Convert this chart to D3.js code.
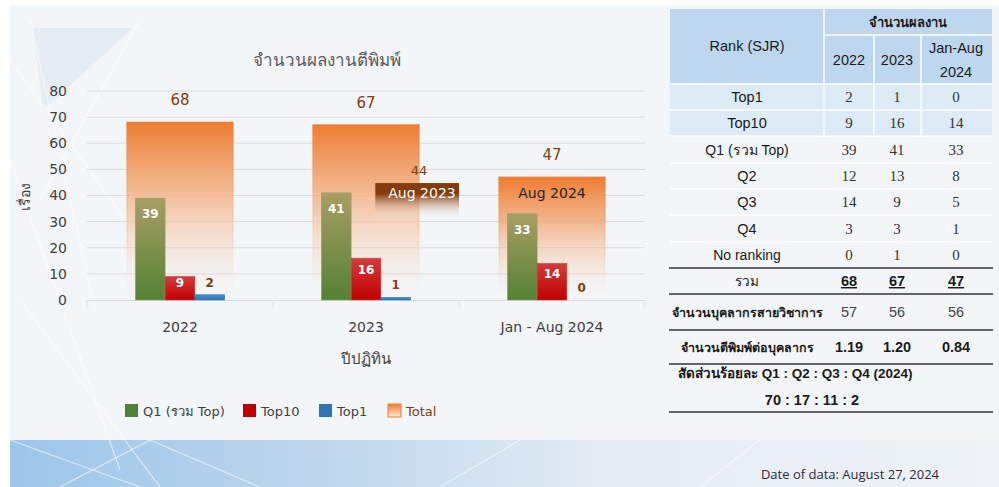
<!DOCTYPE html>
<html>
<head>
<meta charset="utf-8">
<script src="https://cdn.jsdelivr.net/npm/d3@7"></script>
<style>
  body { margin: 0; background: #fff; }
  svg { display: block; font-family: "DejaVu Sans", "Noto Sans", sans-serif; }
</style>
</head>
<body>
<svg id="chart"></svg>
<script>
// chart data
var categories = ["2022", "2023", "Jan - Aug 2024"];
var q1 = [39, 41, 33];
var top10 = [9, 16, 14];
var top1 = [2, 1, 0];
var total = [68, 67, 47];
var yTicks = [0, 10, 20, 30, 40, 50, 60, 70, 80];
var aug2023 = 44;
var augLabels = ["Aug 2023", "Aug 2024"];

// table data
var tableYears = ["2022", "2023", "Jan-Aug", "2024"];
var rankNames = ["Top1", "Top10", "Q1 (รวม Top)", "Q2", "Q3", "Q4", "No ranking"];
var rankValues = [[2, 1, 0], [9, 16, 14], [39, 41, 33], [12, 13, 8], [14, 9, 5], [3, 3, 1], [0, 1, 0]];
var sumRow = [68, 67, 47];
var staffRow = [57, 56, 56];
var perStaffRow = ["1.19", "1.20", "0.84"];
var ratioText = ["สัดส่วนร้อยละ Q1 : Q2 : Q3 : Q4 (2024)", "70 : 17 : 11 : 2"];

var svgWidth = 999;
var svgHeight = 487;

var svg = d3.select("#chart")
  .attr("width", svgWidth)
  .attr("height", svgHeight);

var defs = svg.append("defs");

function vGrad(id, stops) {
  var g = defs.append("linearGradient").attr("id", id)
    .attr("x1", 0).attr("y1", 0).attr("x2", 0).attr("y2", 1);
  stops.forEach(function(s) {
    g.append("stop").attr("offset", s[0]).attr("stop-color", s[1]).attr("stop-opacity", s[2] == null ? 1 : s[2]);
  });
}
vGrad("gTotal", [[0, "#ed7d31"], [0.35, "#f3a877", 0.85], [1, "#fbe5d6", 0]]);
vGrad("gGreen", [[0, "#a89e64"], [1, "#548235"]]);
vGrad("gRed", [[0, "#d43c3c"], [1, "#c00000"]]);
vGrad("gBlue", [[0, "#4a8ccc"], [1, "#2e75b6"]]);
vGrad("gAug", [[0, "#843c0c"], [0.3, "#843c0c"], [1, "#ffffff", 0]]);
vGrad("gLegTot", [[0, "#ed7d31"], [1, "#fde9d9"]]);

var bandG = defs.append("linearGradient").attr("id", "gBand")
  .attr("x1", 0).attr("y1", 0).attr("x2", 1).attr("y2", 0);
[[0, "#9cc6ea"], [0.3, "#bcd5ec"], [0.6, "#e4ecf4"], [1, "#eff3f7"]].forEach(function(s) {
  bandG.append("stop").attr("offset", s[0]).attr("stop-color", s[1]);
});

// background
svg.append("rect").attr("x", 10).attr("y", 5).attr("width", 989).attr("height", 482).attr("fill", "#f3f6f9");
svg.append("rect").attr("x", 10).attr("y", 440).attr("width", 989).attr("height", 47).attr("fill", "url(#gBand)");
svg.append("polygon").attr("points", "33,28 133,28 43,110").attr("fill", "#e4ecf4");
var deco = [[10, 60, 140, 240], [30, 20, 95, 310], [140, 20, 40, 200], [10, 160, 120, 470], [60, 487, 150, 440],
  [20, 300, 160, 487], [150, 440, 260, 487], [10, 440, 140, 487], [440, 487, 520, 440], [700, 487, 760, 440]];
svg.selectAll("line.deco").data(deco).enter().append("line")
  .attr("x1", function(d) { return d[0]; }).attr("y1", function(d) { return d[1]; })
  .attr("x2", function(d) { return d[2]; }).attr("y2", function(d) { return d[3]; })
  .attr("stroke", "#ffffff").attr("stroke-opacity", 0.6).attr("stroke-width", 1.2);

// scales
var x = d3.scaleBand().domain(categories).range([87, 645]);
var y = d3.scaleLinear().domain([0, 80]).range([300, 91]);
var groupW = x.bandwidth() * 0.48;
var totalW = x.bandwidth() * 0.57;
var sub = d3.scaleBand().domain(["q1", "top10", "top1"]).range([0, groupW]);

// gridlines
svg.selectAll("line.grid").data(yTicks.slice(1)).enter().append("line")
  .attr("x1", 87).attr("x2", 645)
  .attr("y1", function(d) { return y(d); }).attr("y2", function(d) { return y(d); })
  .attr("stroke", "#d9d9d9").attr("stroke-width", 1);

// y axis labels
var yAxis = d3.axisLeft(y).tickValues(yTicks).tickSize(0).tickPadding(0);
var yG = svg.append("g").attr("transform", "translate(67,0)").call(yAxis);
yG.select(".domain").remove();
yG.selectAll("text").attr("font-size", 14).attr("fill", "#404040").attr("font-family", "DejaVu Sans");

svg.append("text").attr("transform", "translate(30,197) rotate(-90)")
  .attr("text-anchor", "middle").attr("font-size", 14).attr("fill", "#404040").text("เรื่อง");

// x axis
var xAxis = d3.axisBottom(x).tickSize(0).tickPadding(22);
var xG = svg.append("g").attr("transform", "translate(0,300)").call(xAxis);
xG.select(".domain").attr("stroke", "#d9d9d9");
xG.selectAll("text").attr("font-size", 14).attr("fill", "#404040").attr("font-family", "DejaVu Sans");
svg.selectAll("line.sep").data([87, 273, 459, 645]).enter().append("line")
  .attr("x1", function(d) { return d; }).attr("x2", function(d) { return d; })
  .attr("y1", 300).attr("y2", 308).attr("stroke", "#d9d9d9");

svg.append("text").attr("x", 366).attr("y", 364).attr("text-anchor", "middle")
  .attr("font-size", 15).attr("fill", "#404040").text("ปีปฏิทิน");

svg.append("text").attr("x", 327).attr("y", 66).attr("text-anchor", "middle")
  .attr("font-size", 17).attr("fill", "#595959").text("จำนวนผลงานตีพิมพ์");

// total bars
svg.selectAll("rect.total").data(total).enter().append("rect")
  .attr("x", function(d, i) { return x(categories[i]) + (x.bandwidth() - totalW) / 2; })
  .attr("y", function(d) { return y(d); })
  .attr("width", totalW)
  .attr("height", function(d) { return y(0) - y(d); })
  .attr("fill", "url(#gTotal)")
  .attr("stroke", "url(#gTotal)").attr("stroke-width", 1.2);
svg.selectAll("text.total").data(total).enter().append("text")
  .attr("x", function(d, i) { return x(categories[i]) + x.bandwidth() / 2; })
  .attr("y", function(d) { return y(d) - 17; })
  .attr("text-anchor", "middle").attr("font-size", 15).attr("fill", "#843c0c")
  .text(function(d) { return d; });

// Aug 2023 marker
var augX = x(categories[1]) + x.bandwidth() * 0.55;
svg.append("rect").attr("x", augX).attr("y", y(aug2023) - 2)
  .attr("width", x(categories[2]) - augX).attr("height", 36).attr("fill", "url(#gAug)");
svg.append("text").attr("x", x(categories[2]) - 37).attr("y", y(aug2023) + 13)
  .attr("text-anchor", "middle").attr("font-size", 14).attr("fill", "#ffffff").text(augLabels[0]);
svg.append("text").attr("x", x(categories[1]) + (x.bandwidth() + totalW) / 2).attr("y", y(aug2023) - 10)
  .attr("text-anchor", "middle").attr("font-size", 13).attr("fill", "#843c0c").text(aug2023);
svg.append("text").attr("x", x(categories[2]) + x.bandwidth() / 2).attr("y", y(aug2023) + 13)
  .attr("text-anchor", "middle").attr("font-size", 14).attr("fill", "#262626").text(augLabels[1]);

// series bars
var series = [
  { key: "q1", values: q1, fill: "url(#gGreen)", stroke: "#8fa266" },
  { key: "top10", values: top10, fill: "url(#gRed)", stroke: "#d04040" },
  { key: "top1", values: top1, fill: "url(#gBlue)", stroke: "#2e75b6" }
];
series.forEach(function(s) {
  svg.selectAll("rect." + s.key).data(s.values).enter().append("rect")
    .attr("x", function(d, i) { return x(categories[i]) + (x.bandwidth() - groupW) / 2 + sub(s.key); })
    .attr("y", function(d) { return y(d); })
    .attr("width", sub.bandwidth())
    .attr("height", function(d) { return y(0) - y(d); })
    .attr("fill", s.fill)
    .attr("stroke", s.stroke).attr("stroke-width", 0.6);
  svg.selectAll("text." + s.key).data(s.values).enter().append("text")
    .attr("x", function(d, i) { return x(categories[i]) + (x.bandwidth() - groupW) / 2 + sub(s.key) + sub.bandwidth() / 2; })
    .attr("y", function(d) {
      if (s.key == "top1") return y(d) - 8;
      var h = y(0) - y(d);
      return y(d) + Math.min(16, h * 0.28) + 4;
    })
    .attr("text-anchor", "middle").attr("font-size", 12).attr("font-weight", "bold")
    .attr("fill", s.key == "top1" ? "#7f3f10" : "#ffffff")
    .text(function(d) { return d; });
});

// legend
var legend = [
  { name: "Q1 (รวม Top)", fill: "#548235", x: 125, color: "#404040" },
  { name: "Top10", fill: "#c00000", x: 243, color: "#404040" },
  { name: "Top1", fill: "#2e75b6", x: 319, color: "#404040" },
  { name: "Total", fill: "url(#gLegTot)", x: 388, color: "#843c0c" }
];
var lg = svg.selectAll("g.leg").data(legend).enter().append("g")
  .attr("transform", function(d) { return "translate(" + d.x + ",404)"; });
lg.append("rect").attr("width", 13).attr("height", 13)
  .attr("fill", function(d) { return d.fill; })
  .attr("stroke", function(d) { return d.name == "Total" ? "#ed7d31" : "none"; });
lg.append("text").attr("x", 18).attr("y", 12).attr("font-size", 13)
  .attr("fill", function(d) { return d.color; })
  .text(function(d) { return d.name; });

// table
var tX0 = 670, tX1 = 992, cLab = 824;
var colMid = [849, 897, 956];
var labMid = 747;
svg.append("rect").attr("x", tX0).attr("y", 9).attr("width", tX1 - tX0).attr("height", 75).attr("fill", "#bdd7ee");
svg.append("rect").attr("x", tX0).attr("y", 84).attr("width", tX1 - tX0).attr("height", 52).attr("fill", "#ddebf7");
var white = svg.append("g").attr("stroke", "#ffffff").attr("stroke-width", 1.5);
white.append("line").attr("x1", cLab).attr("x2", cLab).attr("y1", 9).attr("y2", 136);
[874, 921].forEach(function(v) {
  white.append("line").attr("x1", v).attr("x2", v).attr("y1", 35).attr("y2", 136);
});
white.append("line").attr("x1", cLab).attr("x2", tX1).attr("y1", 35).attr("y2", 35);
[84, 110, 136, 163, 189, 215, 242].forEach(function(v) {
  white.append("line").attr("x1", tX0).attr("x2", tX1).attr("y1", v).attr("y2", v);
});
svg.selectAll("line.black").data([268, 294, 330, 364, 412]).enter().append("line")
  .attr("x1", 669).attr("x2", 993)
  .attr("y1", function(d) { return d; }).attr("y2", function(d) { return d; })
  .attr("stroke", "#333333").attr("stroke-width", 1.3);

var tt = svg.append("g").attr("font-size", 14.5).attr("fill", "#1a1a1a").attr("text-anchor", "middle")
  .attr("font-family", "'Liberation Sans', 'DejaVu Sans', sans-serif");
tt.append("text").attr("x", labMid).attr("y", 51).text("Rank (SJR)");
tt.append("text").attr("x", 908).attr("y", 27).attr("font-weight", "bold").attr("font-size", 13).text("จำนวนผลงาน");
tt.append("text").attr("x", colMid[0]).attr("y", 65).text(tableYears[0]);
tt.append("text").attr("x", colMid[1]).attr("y", 65).text(tableYears[1]);
tt.append("text").attr("x", colMid[2]).attr("y", 53).text(tableYears[2]);
tt.append("text").attr("x", colMid[2]).attr("y", 77).text(tableYears[3]);

var rowY = d3.scaleBand().domain(rankNames).range([84, 268]);
rankNames.forEach(function(name, r) {
  var cy = rowY(name) + rowY.bandwidth() / 2 + 5;
  tt.append("text").attr("x", labMid).attr("y", cy).attr("font-size", name.length > 4 && name != "Top10" ? 14 : 14.5).text(name);
  rankValues[r].forEach(function(v, c) {
    tt.append("text").attr("x", colMid[c]).attr("y", cy).attr("fill", "#333")
      .attr("font-family", "'Liberation Serif', serif").attr("font-size", 15).text(v);
  });
});
tt.append("text").attr("x", labMid).attr("y", 286).attr("font-size", 13.5).text("รวม");
sumRow.forEach(function(v, c) {
  tt.append("text").attr("x", colMid[c]).attr("y", 286).attr("font-weight", "bold")
    .attr("text-decoration", "underline").text(v);
});
tt.append("text").attr("x", labMid).attr("y", 317).attr("font-weight", "bold").attr("font-size", 12.5).text("จำนวนบุคลากรสายวิชาการ");
staffRow.forEach(function(v, c) {
  tt.append("text").attr("x", colMid[c]).attr("y", 317).attr("fill", "#444").text(v);
});
tt.append("text").attr("x", labMid).attr("y", 352).attr("font-weight", "bold").attr("font-size", 12.5).text("จำนวนตีพิมพ์ต่อบุคลากร");
perStaffRow.forEach(function(v, c) {
  tt.append("text").attr("x", colMid[c]).attr("y", 352).attr("font-weight", "bold").text(v);
});
tt.append("text").attr("x", 678).attr("y", 378).attr("text-anchor", "start").attr("font-weight", "bold").attr("font-size", 13.5).text(ratioText[0]);
tt.append("text").attr("x", 812).attr("y", 405).attr("font-weight", "bold").text(ratioText[1]);

svg.append("text").attr("x", 850).attr("y", 479).attr("text-anchor", "middle")
  .attr("font-size", 13).attr("fill", "#2b2b3b")
  .attr("font-family", "'Open Sans', sans-serif").text("Date of data: August 27, 2024");
</script>
</body>
</html>
